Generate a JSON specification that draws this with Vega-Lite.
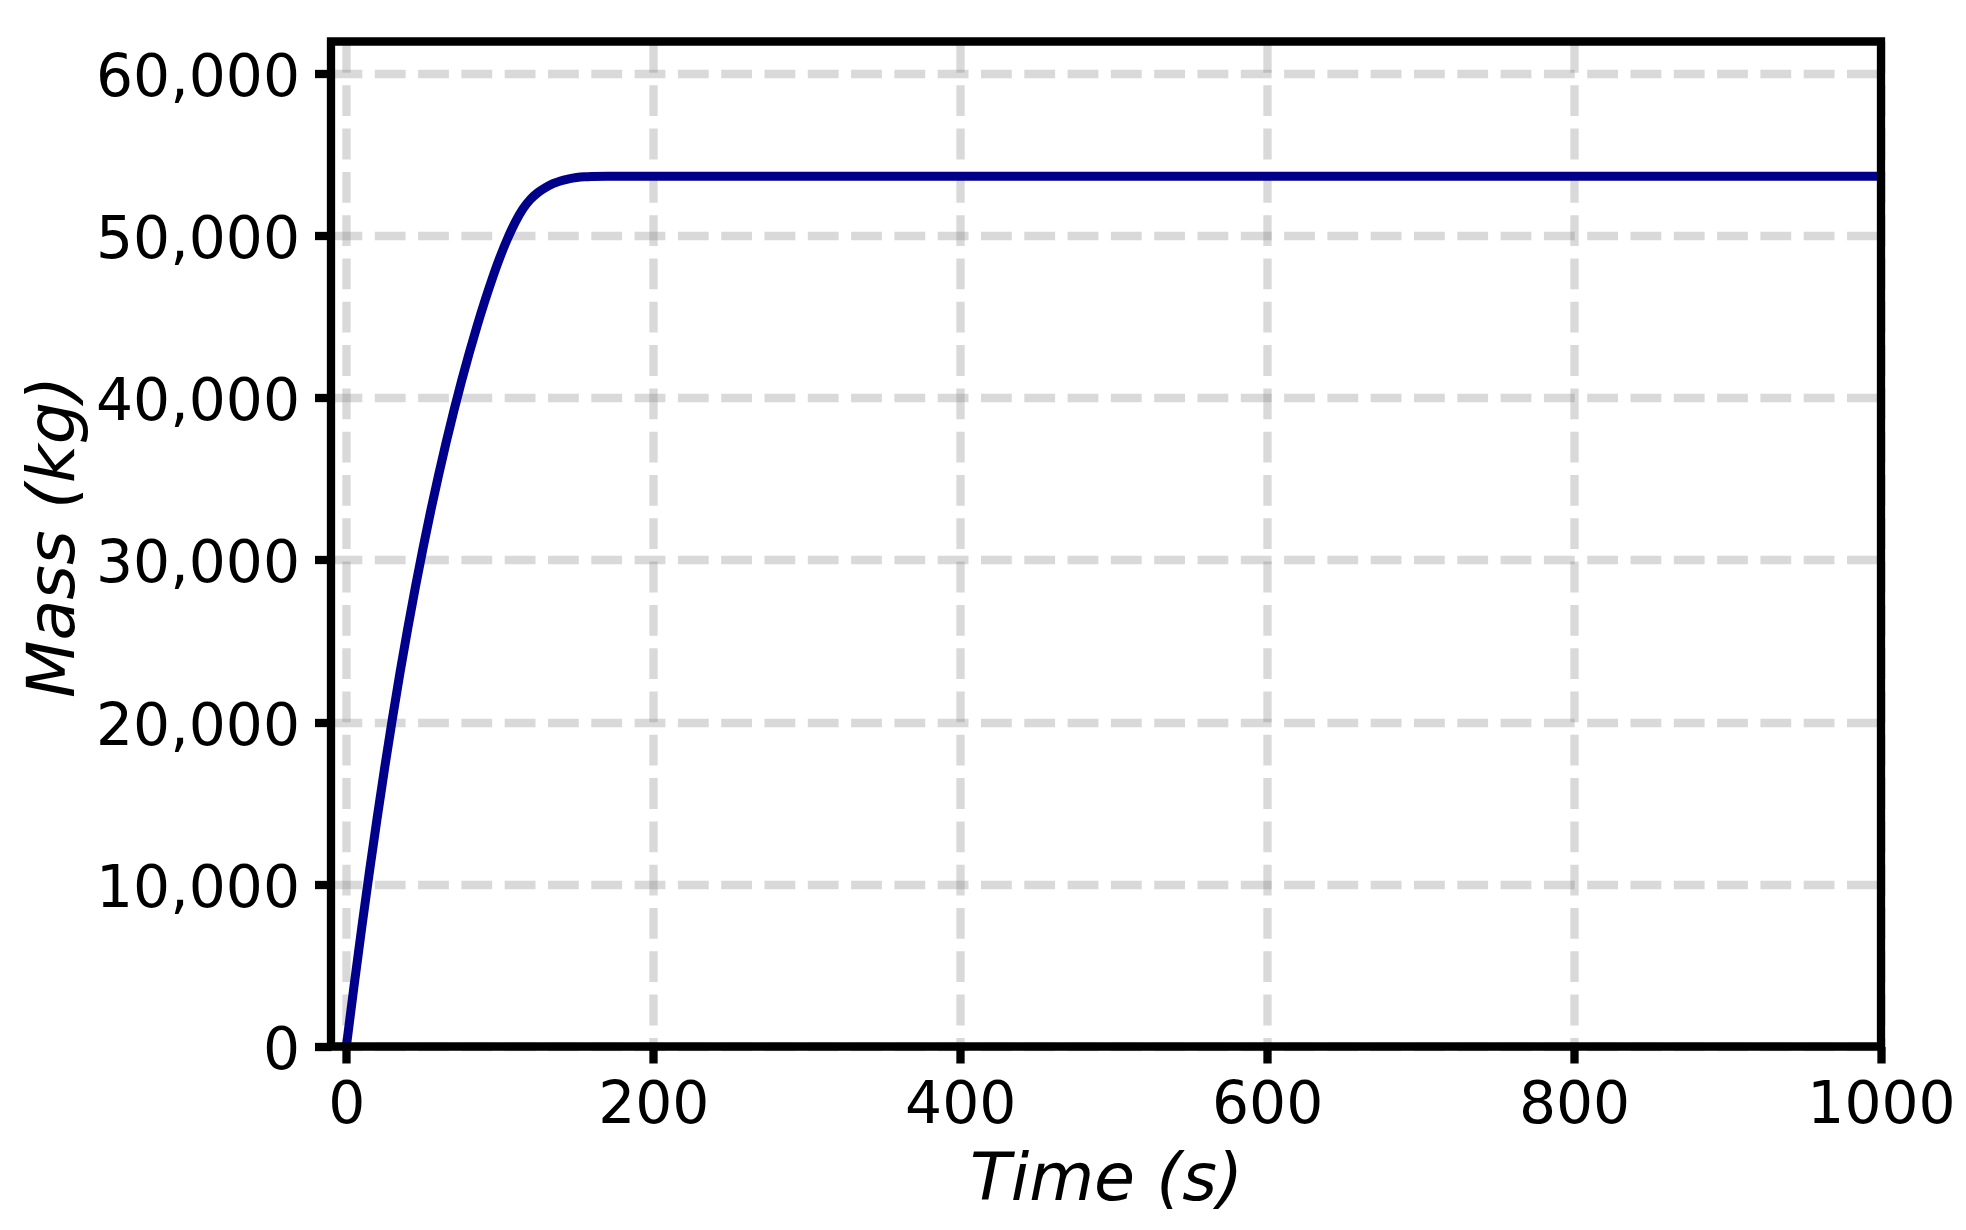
{
  "$schema": "https://vega.github.io/schema/vega-lite/v6.json",
  "width": 1550,
  "height": 1005,
  "autosize": {"type": "none"},
  "padding": {"left": 331, "top": 41.5, "right": 85, "bottom": 183.5},
  "background": "white",
  "config": {
    "font": "DejaVu Sans",
    "view": {"stroke": null},
    "axis": {
      "domain": false,
      "grid": true,
      "gridColor": "gray",
      "gridOpacity": 0.3,
      "gridWidth": 8.3,
      "gridDash": [30.8, 12.5],
      "ticks": true,
      "tickColor": "black",
      "tickWidth": 8.3,
      "tickSize": 16.5,
      "labelFont": "DejaVu Sans",
      "labelFontSize": 58.3,
      "labelColor": "black",
      "labelFlush": false,
      "labelOverlap": false,
      "labelBound": false,
      "labelLimit": 500,
      "titleFont": "DejaVu Sans",
      "titleFontSize": 66.7,
      "titleFontStyle": "italic",
      "titleFontWeight": "normal",
      "titleColor": "black"
    }
  },
  "layer": [
    {
      "data": {
        "values": [
          {"time": 0, "mass": 0},
          {"time": 5, "mass": 3725},
          {"time": 10, "mass": 7305},
          {"time": 15, "mass": 10742},
          {"time": 20, "mass": 14039},
          {"time": 25, "mass": 17196},
          {"time": 30, "mass": 20206},
          {"time": 35, "mass": 23066},
          {"time": 40, "mass": 25771},
          {"time": 45, "mass": 28326},
          {"time": 50, "mass": 30743},
          {"time": 55, "mass": 33025},
          {"time": 60, "mass": 35182},
          {"time": 65, "mass": 37227},
          {"time": 70, "mass": 39164},
          {"time": 75, "mass": 40996},
          {"time": 80, "mass": 42726},
          {"time": 85, "mass": 44356},
          {"time": 90, "mass": 45886},
          {"time": 95, "mass": 47313},
          {"time": 100, "mass": 48625},
          {"time": 105, "mass": 49787},
          {"time": 110, "mass": 50800},
          {"time": 115, "mass": 51625},
          {"time": 120, "mass": 52225},
          {"time": 125, "mass": 52650},
          {"time": 130, "mass": 52962},
          {"time": 135, "mass": 53200},
          {"time": 140, "mass": 53370},
          {"time": 145, "mass": 53485},
          {"time": 150, "mass": 53565},
          {"time": 155, "mass": 53615},
          {"time": 160, "mass": 53635},
          {"time": 170, "mass": 53648},
          {"time": 180, "mass": 53650},
          {"time": 200, "mass": 53650},
          {"time": 300, "mass": 53650},
          {"time": 400, "mass": 53650},
          {"time": 500, "mass": 53650},
          {"time": 600, "mass": 53650},
          {"time": 700, "mass": 53650},
          {"time": 800, "mass": 53650},
          {"time": 900, "mass": 53650},
          {"time": 1000, "mass": 53650}
        ]
      },
      "mark": {"type": "line", "color": "#00008B", "strokeWidth": 9, "strokeCap": "butt", "interpolate": "monotone"},
      "encoding": {
        "x": {
          "field": "time",
          "type": "quantitative",
          "scale": {"domain": [-10, 1000], "nice": false, "zero": false},
          "axis": {
            "values": [0, 200, 400, 600, 800, 1000],
            "format": "d",
            "title": "Time (s)",
            "labelPadding": 13,
            "titlePadding": 13
          }
        },
        "y": {
          "field": "mass",
          "type": "quantitative",
          "scale": {"domain": [0, 61950], "nice": false, "zero": false},
          "axis": {
            "values": [0, 10000, 20000, 30000, 40000, 50000, 60000],
            "format": ",d",
            "title": "Mass (kg)",
            "labelPadding": 15,
            "labelBaseline": "alphabetic",
            "labelOffset": 22,
            "titleX": -258,
            "titleY": 495,
            "titleAngle": -90,
            "titleAlign": "center",
            "titleBaseline": "alphabetic"
          }
        },
        "strokeWidth": {"value": 9}
      }
    },
    {
      "data": {"values": [{"frame": "plot area"}]},
      "mark": {"type": "rect", "filled": false, "stroke": "black", "strokeWidth": 8.3, "strokeJoin": "miter"},
      "encoding": {
        "x": {"datum": -10, "type": "quantitative"},
        "x2": {"datum": 1000},
        "y": {"datum": 0, "type": "quantitative"},
        "y2": {"datum": 61950}
      }
    }
  ]
}
